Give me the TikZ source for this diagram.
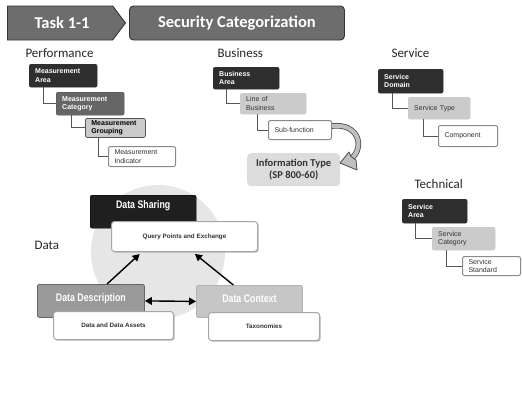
\documentclass[tikz,border=0pt]{standalone}
\usepackage{fontspec}
\setmainfont{Liberation Sans}
\newfontfamily\calib{Carlito}
\newfontfamily\condfont[FakeStretch=0.8]{Liberation Sans}
\usetikzlibrary{shapes.symbols,arrows.meta,calc,shadows}

\definecolor{hdrgray}{HTML}{6D6D6D}
\definecolor{hdrline}{HTML}{333333}
\definecolor{darkbox}{HTML}{2E2E2E}
\definecolor{midbox}{HTML}{666666}
\definecolor{lightbox}{HTML}{CBCBCB}
\definecolor{paleline}{HTML}{8A8A8A}
\definecolor{connline}{HTML}{555555}
\definecolor{ringgray}{HTML}{E6E6E6}
\definecolor{descgray}{HTML}{9A9A9A}
\definecolor{ctxgray}{HTML}{C6C6C6}
\definecolor{infogray}{HTML}{DCDCDC}

\tikzset{
  header/.style={fill=hdrgray, draw=hdrline, line width=0.9pt, text=white,
    font=\calib\bfseries\fontsize{16.5}{18}\selectfont},
  section/.style={font=\calib\fontsize{13}{15}\selectfont, text=black!85},
  treebox/.style={anchor=north west, rounded corners=2pt, inner xsep=6pt, inner ysep=2pt,
    align=left, font=\fontsize{7}{8.5}\selectfont},
  lvldark/.style={treebox, fill=darkbox, draw=darkbox, text=white, font=\bfseries\fontsize{7}{8.5}\selectfont},
  lvlmid/.style={treebox, fill=midbox, draw=midbox!80!black, text=white, font=\bfseries\fontsize{7}{8.5}\selectfont},
  lvlgroup/.style={treebox, fill=lightbox, draw=connline, line width=0.8pt, text=black, font=\bfseries\fontsize{7}{8.5}\selectfont},
  lvllight/.style={treebox, fill=lightbox, draw=lightbox, text=black!80},
  lvlwhite/.style={treebox, fill=white, draw=paleline, line width=1pt, text=black!80},
  conn/.style={draw=connline, line width=0.9pt},
  databox/.style={anchor=north west, inner sep=0pt, rounded corners=2pt},
  datatitle/.style={text=white, font=\condfont\bfseries\fontsize{11}{12}\selectfont},
  datanote/.style={databox, fill=white, draw=gray!70, line width=1pt, rounded corners=3pt,
    drop shadow={shadow xshift=1.2pt, shadow yshift=-1.2pt, fill=gray!55, opacity=1},
    font=\bfseries\fontsize{6.3}{7}\selectfont, text=black!80},
  bigarrow/.style={line width=1.4pt, black, -{Triangle[length=7pt,width=7.5pt]}},
}

\begin{document}
\begin{tikzpicture}[x=1pt,y=-1pt]
\useasboundingbox (0,0) rectangle (522,408);

% ---------- header ----------
\node[header, signal, signal to=east, signal pointer angle=106,
      minimum width=118, minimum height=34, inner sep=0pt, anchor=west] (task) at (7,23) {\hspace{4pt}Task 1-1\hspace{4pt}};
\node[header, rounded corners=4pt, minimum width=215, minimum height=34, inner sep=0pt,
      anchor=west] (title) at (129,23) {Security Categorization};

% ---------- Performance ----------
\node[section, anchor=west] (perf) at (22,53) {Performance};
\node[lvldark, text width=56pt, minimum height=23pt] (pa) at (29,64) {Measurement\\Area};
\node[lvlmid, text width=56pt, minimum height=23pt] (pb) at (56,92) {Measurement\\Category};
\node[lvlgroup, text width=48pt, minimum height=19pt] (pc) at (85,118) {Measurement\\Grouping};
\node[lvlwhite, text width=55pt, minimum height=20pt] (pd) at (108,146) {Measurement\\Indicator};
\draw[conn] ($(pa.south west)+(14,0)$) |- (pb.west);
\draw[conn] ($(pb.south west)+(15,0)$) |- (pc.west);
\draw[conn] ($(pc.south west)+(13,0)$) |- (pd.west);

% ---------- Business ----------
\node[section, anchor=west] (bus) at (214,53) {Business};
\node[lvldark, text width=54pt, minimum height=22pt] (ba) at (213,67) {Business\\Area};
\node[lvllight, text width=54pt, minimum height=21pt] (bb) at (240,93) {Line of\\Business};
\node[lvlwhite, text width=51pt, minimum height=19pt] (bc) at (268,120) {Sub-function};
\draw[conn] ($(ba.south west)+(13,0)$) |- (bb.west);
\draw[conn] ($(bb.south west)+(17,0)$) |- (bc.west);
\node[anchor=north west, fill=infogray, rounded corners=4pt, minimum width=93pt, minimum height=33pt,
      inner sep=0pt, align=center, font=\calib\bfseries\fontsize{10.5}{11.5}\selectfont, text=black!80]
      (info) at (247,153) {Information Type\\(SP 800-60)};
% curved block arrow from the sub-function to the information type
\coordinate (bendA) at ($(bc.east)+(0,-4)$);
\coordinate (bendB) at (352,158);
\draw[line width=0.8pt, draw=black!70, double=gray!50, double distance=4pt]
  (bendA) .. controls (358,123) and (365,146) .. (bendB);
\filldraw[fill=gray!50, draw=black!70, line width=0.8pt, line join=round]
  (340,163) -- (349,152) -- (351,156.5) -- (356,160) -- (357,170) -- cycle;

% ---------- Service ----------
\node[section, anchor=west] (svc) at (388,53) {Service};
\node[lvldark, text width=53pt, minimum height=24pt] (sa) at (378,69) {Service\\Domain};
\node[lvllight, text width=50pt, minimum height=22pt] (sb) at (408,97) {Service Type};
\node[lvlwhite, text width=47pt, minimum height=21pt] (sc) at (438,125) {Component};
\draw[conn] ($(sa.south west)+(14,0)$) |- (sb.west);
\draw[conn] ($(sb.south west)+(15,0)$) |- (sc.west);

% ---------- Technical ----------
\node[section, anchor=west] (tech) at (411,184) {Technical};
\node[lvldark, text width=53pt, minimum height=24pt] (ta) at (402,199) {Service\\Area};
\node[lvllight, text width=51pt, minimum height=23pt] (tb) at (432,227) {Service\\Category};
\node[lvlwhite, text width=46pt, minimum height=19pt] (tc) at (462,256) {Service\\Standard};
\draw[conn] ($(ta.south west)+(13,0)$) |- (tb.west);
\draw[conn] ($(tb.south west)+(14,0)$) |- (tc.west);

% ---------- Data ----------
\node[section, anchor=west] (data) at (31,245) {Data};
\fill[ringgray] (158,252) circle (67);

\node[databox, fill=black!88, draw=black, minimum width=106pt, minimum height=33pt] (dsh) at (90,195) {};
\node[datatitle] (dshT) at ($(dsh.north)+(0,11)$) {Data Sharing};
\node[datanote, minimum width=146pt, minimum height=30pt] (qp) at (111,221) {Query Points and Exchange};

\node[databox, fill=descgray, draw=black!60, line width=0.8pt, minimum width=107pt, minimum height=33pt] (dd) at (37,284) {};
\node[datatitle] (ddT) at ($(dd.center)+(0,-2)$) {Data Description};
\node[datanote, minimum width=120pt, minimum height=28pt] (da) at (53,311) {Data and Data Assets};

\node[databox, fill=ctxgray, draw=black!30, line width=0.8pt, minimum width=106pt, minimum height=32pt] (dc) at (196,285) {};
\node[datatitle] (dcT) at ($(dc.center)+(0,-3)$) {Data Context};
\node[datanote, minimum width=111pt, minimum height=28pt] (tx) at (208,312) {Taxonomies};

\draw[bigarrow, shorten >=3pt] ($(dd.north west)!0.65!(dd.north east)$) -- ($(qp.south west)!0.21!(qp.south east)$);
\draw[bigarrow, shorten >=3pt] ($(dc.north west)!0.35!(dc.north east)$) -- ($(qp.south west)!0.555!(qp.south east)$);
\draw[bigarrow, {Triangle[length=7pt,width=7.5pt]}-{Triangle[length=7pt,width=7.5pt]}] (dd.east) -- (dc.west);
\end{tikzpicture}
\end{document}
